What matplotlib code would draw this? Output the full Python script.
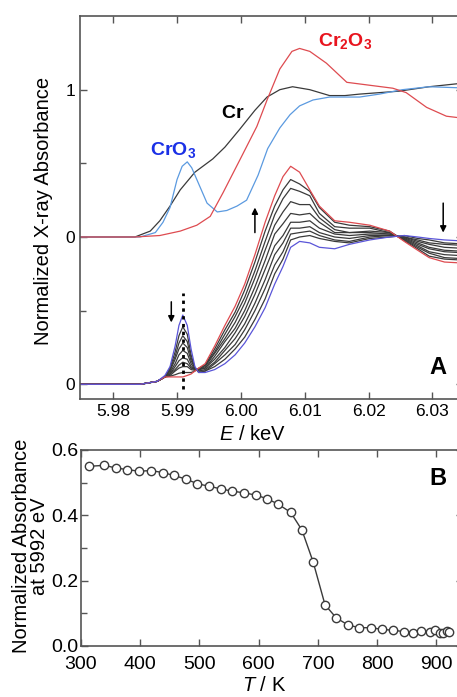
import matplotlib
matplotlib.use('Agg')
import matplotlib.pyplot as plt
from matplotlib.ticker import FixedLocator

plt.rcParams['font.family'] = ['Liberation Sans', 'DejaVu Sans']
plt.rcParams['mathtext.fontset'] = 'custom'
plt.rcParams['mathtext.rm'] = 'Liberation Sans'
plt.rcParams['mathtext.it'] = 'Liberation Sans:italic'
plt.rcParams['mathtext.bf'] = 'Liberation Sans:bold'

# --- panel A: reference spectra (plotted with +1 offset) ---
e_cr = [5.9748, 5.9834, 5.9858, 5.9873, 5.9889, 5.9905, 5.9928, 5.9956, 5.9975, 5.9998, 6.0022,
        6.0041, 6.0061, 6.0081, 6.0108, 6.0139, 6.0163, 6.0186, 6.0217, 6.0248, 6.0295, 6.036]
mu_cr = [0, 0, 0.04, 0.11, 0.21, 0.32, 0.44, 0.53, 0.61, 0.73, 0.86,
         0.95, 1.00, 1.02, 1.00, 0.96, 0.96, 0.97, 0.98, 0.99, 1.02, 1.05]

e_cro3 = [5.9748, 5.9842, 5.9866, 5.9878, 5.9889, 5.9900, 5.9908, 5.9916, 5.9923, 5.9931, 5.9947,
          5.9963, 5.9978, 5.9994, 6.0009, 6.0027, 6.0042, 6.0061, 6.0077, 6.0092, 6.0113, 6.0139,
          6.0186, 6.0217, 6.0253, 6.0295, 6.036]
mu_cro3 = [0, 0, 0.03, 0.10, 0.20, 0.39, 0.48, 0.51, 0.47, 0.39, 0.23,
           0.17, 0.18, 0.21, 0.25, 0.42, 0.60, 0.74, 0.83, 0.89, 0.93, 0.95,
           0.95, 0.97, 1.00, 1.02, 1.01]

e_cr2o3 = [5.9748, 5.9834, 5.9873, 5.9905, 5.9931, 5.9952, 5.9972, 5.9998, 6.0025, 6.0041, 6.0061,
           6.0080, 6.0092, 6.0108, 6.0134, 6.0166, 6.0202, 6.0238, 6.0259, 6.0291, 6.0322, 6.036]
mu_cr2o3 = [0, 0, 0.01, 0.04, 0.08, 0.14, 0.30, 0.52, 0.75, 0.93, 1.14,
            1.26, 1.28, 1.26, 1.18, 1.05, 1.03, 1.01, 0.98, 0.88, 0.82, 0.80]

# --- panel A: in situ spectra during heating ---
e_run = [5.9748, 5.9842, 5.9869, 5.9881, 5.9889, 5.9897, 5.9903, 5.9909, 5.9916, 5.9922, 5.9928,
         5.9934, 5.9944, 5.9959, 5.9975, 5.9991, 6.0006, 6.0022, 6.0038, 6.0053, 6.0066, 6.0078,
         6.0092, 6.0108, 6.0123, 6.0147, 6.0170, 6.0202, 6.0233, 6.0256, 6.0277, 6.0295, 6.0319, 6.036]
mu_start = [0, 0, 0.02, 0.06, 0.12, 0.26, 0.40, 0.47, 0.40, 0.24, 0.12,
            0.08, 0.08, 0.10, 0.14, 0.20, 0.28, 0.39, 0.52, 0.68, 0.80, 0.93,
            0.97, 0.96, 0.93, 0.92, 0.95, 0.98, 1.00, 1.01, 1.00, 0.99, 0.98, 0.97]
mu_end = [0, 0, 0.02, 0.05, 0.05, 0.05, 0.05, 0.05, 0.06, 0.07, 0.09,
          0.11, 0.14, 0.26, 0.40, 0.53, 0.68, 0.88, 1.10, 1.28, 1.41, 1.48,
          1.44, 1.32, 1.21, 1.11, 1.10, 1.08, 1.04, 0.97, 0.91, 0.86, 0.83, 0.82]
mu_mid = [
    [0, 0, 0.02, 0.05, 0.055, 0.065, 0.075, 0.08, 0.08, 0.08, 0.09, 0.11, 0.13, 0.24, 0.37, 0.49, 0.64,
     0.83, 1.04, 1.21, 1.32, 1.39, 1.36, 1.31, 1.20, 1.10, 1.08, 1.07, 1.04, 0.975, 0.92, 0.87, 0.85, 0.84],
    [0, 0, 0.02, 0.05, 0.06, 0.09, 0.11, 0.12, 0.12, 0.10, 0.095, 0.10, 0.13, 0.22, 0.34, 0.46, 0.59,
     0.77, 0.97, 1.15, 1.26, 1.33, 1.31, 1.28, 1.16, 1.07, 1.06, 1.06, 1.03, 0.98, 0.93, 0.89, 0.86, 0.85],
    [0, 0, 0.02, 0.05, 0.07, 0.10, 0.13, 0.15, 0.14, 0.11, 0.10, 0.10, 0.12, 0.21, 0.31, 0.42, 0.55,
     0.72, 0.91, 1.08, 1.17, 1.24, 1.22, 1.22, 1.13, 1.05, 1.03, 1.04, 1.03, 0.985, 0.94, 0.90, 0.88, 0.87],
    [0, 0, 0.02, 0.05, 0.07, 0.12, 0.16, 0.18, 0.17, 0.12, 0.10, 0.10, 0.11, 0.19, 0.29, 0.38, 0.50,
     0.66, 0.84, 1.02, 1.09, 1.16, 1.15, 1.16, 1.10, 1.03, 1.03, 1.03, 1.02, 0.99, 0.95, 0.92, 0.90, 0.89],
    [0, 0, 0.02, 0.05, 0.08, 0.14, 0.20, 0.23, 0.21, 0.14, 0.10, 0.10, 0.11, 0.17, 0.25, 0.35, 0.46,
     0.61, 0.78, 0.94, 1.01, 1.10, 1.10, 1.11, 1.06, 1.02, 1.01, 1.02, 1.02, 0.995, 0.96, 0.93, 0.91, 0.90],
    [0, 0, 0.02, 0.05, 0.09, 0.17, 0.24, 0.28, 0.25, 0.16, 0.11, 0.09, 0.10, 0.15, 0.23, 0.31, 0.41,
     0.55, 0.71, 0.88, 0.96, 1.06, 1.06, 1.07, 1.03, 1.00, 0.99, 1.01, 1.01, 1.00, 0.97, 0.95, 0.93, 0.92],
    [0, 0, 0.02, 0.05, 0.10, 0.19, 0.28, 0.33, 0.29, 0.18, 0.11, 0.09, 0.09, 0.14, 0.20, 0.27, 0.37,
     0.50, 0.65, 0.81, 0.90, 1.02, 1.03, 1.04, 1.01, 0.98, 0.97, 1.00, 1.01, 1.00, 0.98, 0.96, 0.95, 0.94],
    [0, 0, 0.02, 0.05, 0.11, 0.22, 0.33, 0.39, 0.34, 0.20, 0.11, 0.08, 0.09, 0.12, 0.17, 0.24, 0.32,
     0.44, 0.58, 0.75, 0.85, 0.98, 1.00, 1.01, 0.99, 0.97, 0.96, 0.99, 1.00, 1.01, 0.99, 0.98, 0.96, 0.95],
]

# --- panel B: pre-edge peak height vs temperature ---
temp_k = [314, 339, 359, 378, 398, 418, 438, 457, 477, 496, 516, 536, 555, 575, 595, 614, 633, 654,
          673, 692, 712, 731, 751, 770, 789, 808, 827, 846, 861, 874, 889, 898, 906, 912, 918, 922]
peak_abs = [0.550, 0.553, 0.545, 0.540, 0.535, 0.537, 0.531, 0.522, 0.511, 0.497, 0.489, 0.481,
            0.474, 0.469, 0.462, 0.451, 0.434, 0.409, 0.355, 0.257, 0.126, 0.086, 0.064, 0.056,
            0.056, 0.051, 0.048, 0.044, 0.041, 0.046, 0.044, 0.048, 0.041, 0.041, 0.046, 0.044]

RED = '#de4b50'
BLUE_REF = '#5b9ae0'
BLUE_RUN = '#5a55d8'
GREY = '#3a3a3a'
SPINE = '#555555'

fig = plt.figure(figsize=(4.57, 6.97), dpi=100)
# axes run a little past the right edge, as in the cropped original
ax_a = fig.add_axes([0.1751, 0.4275, 0.8380, 0.5495])
ax_b = fig.add_axes([0.1772, 0.0732, 0.8360, 0.2812])

# panel A
for mu in mu_mid:
    ax_a.plot(e_run, mu, color=GREY, lw=0.9)
ax_a.plot(e_run, mu_end, color=RED, lw=0.9)
ax_a.plot(e_run, mu_start, color=BLUE_RUN, lw=0.9)

ax_a.plot(e_cr, [v + 1 for v in mu_cr], color=GREY, lw=0.9)
ax_a.plot(e_cro3, [v + 1 for v in mu_cro3], color=BLUE_REF, lw=0.9)
ax_a.plot(e_cr2o3, [v + 1 for v in mu_cr2o3], color=RED, lw=0.9)

ax_a.plot([5.991, 5.991], [-0.03, 0.62], color='black', lw=2, ls=(0, (1.2, 1.6)))

arrow = dict(arrowstyle='-|>', color='black', lw=1.1, mutation_scale=9, shrinkA=0, shrinkB=0)
ax_a.annotate('', xy=(5.9891, 0.42), xytext=(5.9891, 0.56), arrowprops=arrow)
ax_a.annotate('', xy=(6.0022, 1.20), xytext=(6.0022, 1.03), arrowprops=arrow)
ax_a.annotate('', xy=(6.0317, 1.03), xytext=(6.0317, 1.23), arrowprops=arrow)

ax_a.text(6.0163, 2.33, r'$\mathbf{Cr_2O_3}$', color='#e8141e', fontsize=14, ha='center', va='center')
ax_a.text(5.9894, 1.59, r'$\mathbf{CrO_3}$', color='#1a30e6', fontsize=14, ha='center', va='center')
ax_a.text(5.9988, 1.84, r'$\mathbf{Cr}$', color='black', fontsize=14, ha='center', va='center')
ax_a.text(6.0308, 0.116, 'A', fontsize=17, fontweight='bold', ha='center', va='center')

ax_a.set_xlim(5.9748, 6.0348)
ax_a.set_ylim(-0.1, 2.5)
ax_a.set_xticks([5.98, 5.99, 6.00, 6.01, 6.02, 6.03])
ax_a.set_xticklabels(['5.98', '5.99', '6.00', '6.01', '6.02', '6.03'])
ax_a.set_yticks([0, 1, 2])
ax_a.set_yticklabels(['0', '0', '1'])
ax_a.yaxis.set_minor_locator(FixedLocator([0.5, 1.5]))
ax_a.set_xlabel(r'$E$ / keV', fontsize=14.5)
ax_a.xaxis.set_label_coords(0.45, -0.068)
ax_a.set_ylabel('Normalized X-ray Absorbance', fontsize=14.5)
ax_a.yaxis.set_label_coords(-0.071, 0.49)
ax_a.tick_params(labelsize=12.5)

# panel B
ax_b.plot(temp_k, peak_abs, color=GREY, lw=1.0, marker='o', ms=6, mfc='white', mec=GREY, mew=1.0)
ax_b.text(902, 0.513, 'B', fontsize=17, fontweight='bold', ha='center', va='center')
ax_b.set_xlim(300, 945)
ax_b.set_ylim(0, 0.6)
ax_b.set_xticks([300, 400, 500, 600, 700, 800, 900])
ax_b.set_yticks([0.0, 0.2, 0.4, 0.6])
ax_b.set_yticklabels(['0.0', '0.2', '0.4', '0.6'])
ax_b.yaxis.set_minor_locator(FixedLocator([0.1, 0.3, 0.5]))
ax_b.set_xlabel(r'$T$ / K', fontsize=14.5)
ax_b.xaxis.set_label_coords(0.48, -0.155)
ax_b.set_ylabel('Normalized Absorbance\nat 5992 eV', fontsize=14.5, linespacing=0.95)
ax_b.yaxis.set_label_coords(-0.084, 0.51)
ax_b.tick_params(axis='y', labelsize=14, pad=2)
ax_b.tick_params(axis='x', labelsize=14, pad=7)

for ax in (ax_a, ax_b):
    ax.tick_params(which='both', direction='in', top=True, right=True, color=SPINE, width=1.0)
    ax.tick_params(which='major', length=5)
    ax.tick_params(which='minor', length=4)
    for s in ax.spines.values():
        s.set_color(SPINE)
        s.set_linewidth(1.2)

fig.savefig('out.png', dpi=100)
